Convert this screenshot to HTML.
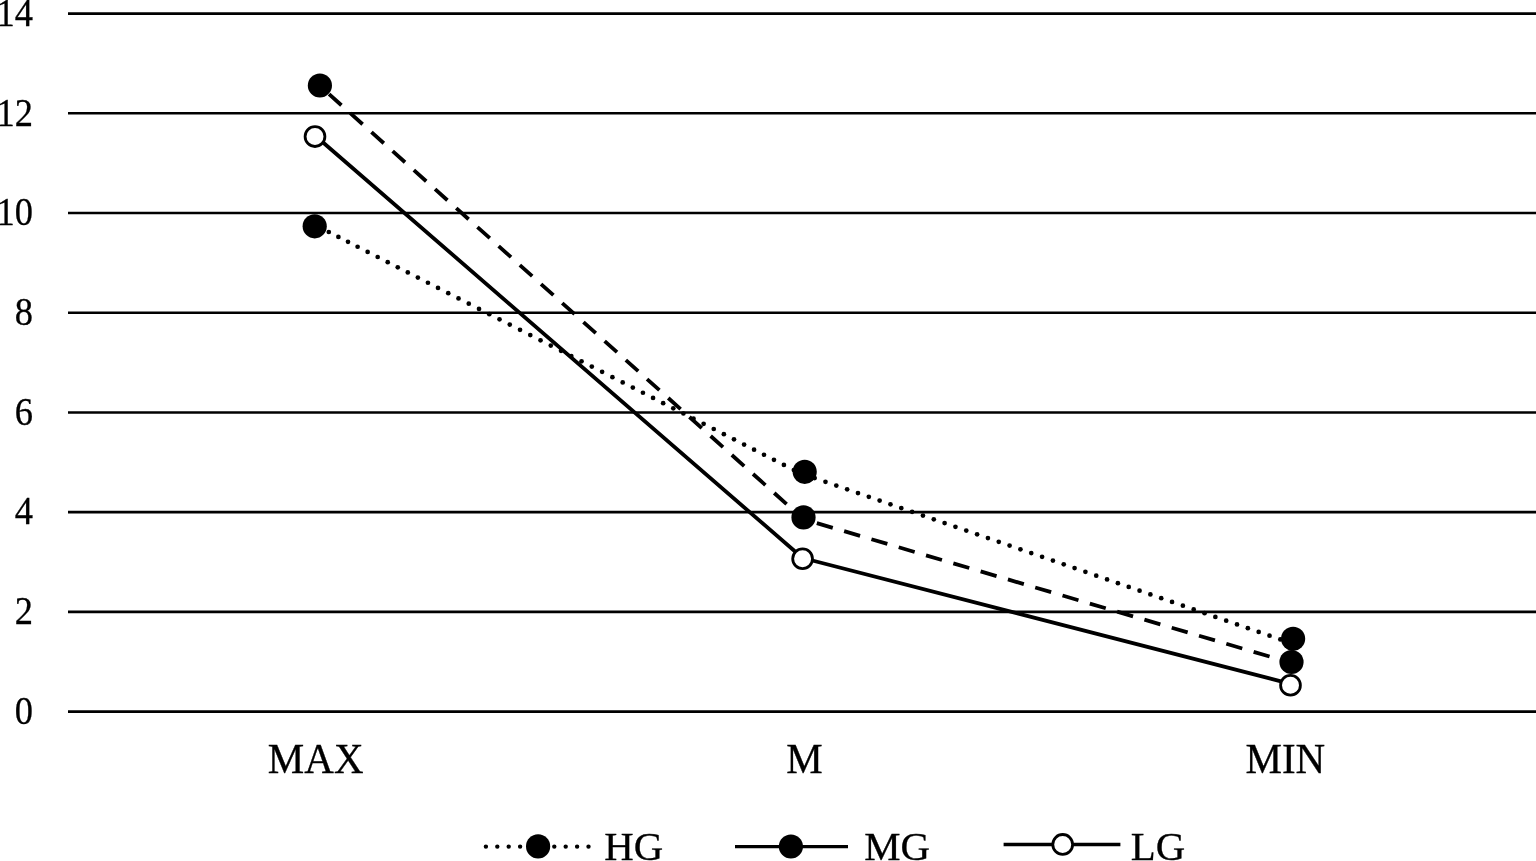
<!DOCTYPE html><html><head><meta charset="utf-8"><style>html,body{margin:0;padding:0;background:#fff;width:1536px;height:861px;overflow:hidden}svg{display:block;will-change:transform}text{font-family:"Liberation Serif",serif;fill:#000;stroke:#000;stroke-width:0.3px}</style></head><body>
<svg width="1536" height="861" viewBox="0 0 1536 861">
<rect width="1536" height="861" fill="#fff"/>
<line x1="68" y1="711.60" x2="1536" y2="711.60" stroke="#000" stroke-width="2.60"/>
<text transform="translate(33.00,723.80) scale(0.9,1)" font-size="40.5" text-anchor="end">0</text>
<line x1="68" y1="611.89" x2="1536" y2="611.89" stroke="#000" stroke-width="2.60"/>
<text transform="translate(33.00,624.09) scale(0.9,1)" font-size="40.5" text-anchor="end">2</text>
<line x1="68" y1="512.17" x2="1536" y2="512.17" stroke="#000" stroke-width="2.60"/>
<text transform="translate(33.00,524.37) scale(0.9,1)" font-size="40.5" text-anchor="end">4</text>
<line x1="68" y1="412.46" x2="1536" y2="412.46" stroke="#000" stroke-width="2.60"/>
<text transform="translate(33.00,424.66) scale(0.9,1)" font-size="40.5" text-anchor="end">6</text>
<line x1="68" y1="312.74" x2="1536" y2="312.74" stroke="#000" stroke-width="2.60"/>
<text transform="translate(33.00,324.94) scale(0.9,1)" font-size="40.5" text-anchor="end">8</text>
<line x1="68" y1="213.03" x2="1536" y2="213.03" stroke="#000" stroke-width="2.60"/>
<text transform="translate(33.00,225.23) scale(0.9,1)" font-size="40.5" text-anchor="end">10</text>
<line x1="68" y1="113.31" x2="1536" y2="113.31" stroke="#000" stroke-width="2.60"/>
<text transform="translate(33.00,125.51) scale(0.9,1)" font-size="40.5" text-anchor="end">12</text>
<line x1="68" y1="13.60" x2="1536" y2="13.60" stroke="#000" stroke-width="2.60"/>
<text transform="translate(33.00,25.80) scale(0.9,1)" font-size="40.5" text-anchor="end">14</text>
<circle cx="328.80" cy="232.00" r="2.35"/>
<circle cx="338.40" cy="236.91" r="2.35"/>
<circle cx="348.00" cy="241.83" r="2.35"/>
<circle cx="357.60" cy="246.74" r="2.35"/>
<circle cx="367.64" cy="251.88" r="2.35"/>
<circle cx="377.68" cy="257.02" r="2.35"/>
<circle cx="387.72" cy="262.16" r="2.35"/>
<circle cx="397.76" cy="267.29" r="2.35"/>
<circle cx="407.80" cy="272.43" r="2.35"/>
<circle cx="417.87" cy="277.58" r="2.35"/>
<circle cx="427.93" cy="282.74" r="2.35"/>
<circle cx="438.00" cy="287.89" r="2.35"/>
<circle cx="448.25" cy="293.14" r="2.35"/>
<circle cx="458.51" cy="298.38" r="2.35"/>
<circle cx="468.76" cy="303.63" r="2.35"/>
<circle cx="479.01" cy="308.88" r="2.35"/>
<circle cx="489.27" cy="314.13" r="2.35"/>
<circle cx="499.52" cy="319.37" r="2.35"/>
<circle cx="509.77" cy="324.62" r="2.35"/>
<circle cx="520.03" cy="329.87" r="2.35"/>
<circle cx="530.28" cy="335.12" r="2.35"/>
<circle cx="540.53" cy="340.37" r="2.35"/>
<circle cx="550.79" cy="345.61" r="2.35"/>
<circle cx="561.04" cy="350.86" r="2.35"/>
<circle cx="571.29" cy="356.11" r="2.35"/>
<circle cx="581.55" cy="361.36" r="2.35"/>
<circle cx="591.80" cy="366.60" r="2.35"/>
<circle cx="602.10" cy="371.87" r="2.35"/>
<circle cx="612.40" cy="377.15" r="2.35"/>
<circle cx="622.70" cy="382.42" r="2.35"/>
<circle cx="632.82" cy="387.60" r="2.35"/>
<circle cx="642.93" cy="392.77" r="2.35"/>
<circle cx="653.05" cy="397.95" r="2.35"/>
<circle cx="663.17" cy="403.13" r="2.35"/>
<circle cx="673.28" cy="408.31" r="2.35"/>
<circle cx="683.40" cy="413.48" r="2.35"/>
<circle cx="693.52" cy="418.66" r="2.35"/>
<circle cx="703.63" cy="423.84" r="2.35"/>
<circle cx="713.75" cy="429.02" r="2.35"/>
<circle cx="723.87" cy="434.20" r="2.35"/>
<circle cx="733.98" cy="439.37" r="2.35"/>
<circle cx="744.10" cy="444.55" r="2.35"/>
<circle cx="754.05" cy="449.64" r="2.35"/>
<circle cx="764.00" cy="454.74" r="2.35"/>
<circle cx="773.95" cy="459.83" r="2.35"/>
<circle cx="783.90" cy="464.92" r="2.35"/>
<circle cx="793.85" cy="470.01" r="2.35"/>
<circle cx="814.65" cy="478.03" r="2.35"/>
<circle cx="825.48" cy="481.79" r="2.35"/>
<circle cx="836.31" cy="485.54" r="2.35"/>
<circle cx="847.14" cy="489.29" r="2.35"/>
<circle cx="857.97" cy="493.05" r="2.35"/>
<circle cx="868.80" cy="496.80" r="2.35"/>
<circle cx="879.63" cy="500.55" r="2.35"/>
<circle cx="890.46" cy="504.31" r="2.35"/>
<circle cx="901.29" cy="508.06" r="2.35"/>
<circle cx="912.12" cy="511.81" r="2.35"/>
<circle cx="922.95" cy="515.57" r="2.35"/>
<circle cx="933.78" cy="519.32" r="2.35"/>
<circle cx="944.61" cy="523.08" r="2.35"/>
<circle cx="955.44" cy="526.83" r="2.35"/>
<circle cx="966.27" cy="530.58" r="2.35"/>
<circle cx="977.10" cy="534.34" r="2.35"/>
<circle cx="987.93" cy="538.09" r="2.35"/>
<circle cx="998.76" cy="541.84" r="2.35"/>
<circle cx="1009.59" cy="545.60" r="2.35"/>
<circle cx="1020.42" cy="549.35" r="2.35"/>
<circle cx="1031.25" cy="553.11" r="2.35"/>
<circle cx="1042.08" cy="556.86" r="2.35"/>
<circle cx="1052.91" cy="560.61" r="2.35"/>
<circle cx="1063.74" cy="564.37" r="2.35"/>
<circle cx="1074.57" cy="568.12" r="2.35"/>
<circle cx="1085.40" cy="571.87" r="2.35"/>
<circle cx="1096.23" cy="575.63" r="2.35"/>
<circle cx="1107.06" cy="579.38" r="2.35"/>
<circle cx="1117.89" cy="583.13" r="2.35"/>
<circle cx="1128.72" cy="586.89" r="2.35"/>
<circle cx="1139.55" cy="590.64" r="2.35"/>
<circle cx="1150.38" cy="594.40" r="2.35"/>
<circle cx="1161.21" cy="598.15" r="2.35"/>
<circle cx="1172.04" cy="601.90" r="2.35"/>
<circle cx="1182.87" cy="605.66" r="2.35"/>
<circle cx="1193.70" cy="609.41" r="2.35"/>
<circle cx="1204.53" cy="613.16" r="2.35"/>
<circle cx="1215.36" cy="616.92" r="2.35"/>
<circle cx="1226.19" cy="620.67" r="2.35"/>
<circle cx="1237.02" cy="624.43" r="2.35"/>
<circle cx="1247.85" cy="628.18" r="2.35"/>
<circle cx="1258.68" cy="631.93" r="2.35"/>
<circle cx="1269.51" cy="635.69" r="2.35"/>
<circle cx="1280.34" cy="639.44" r="2.35"/>
<line x1="319.90" y1="86.00" x2="803.50" y2="519.20" fill="none" stroke="#000" stroke-width="3.8" stroke-dasharray="16.60 11.86" stroke-dashoffset="16.160"/>
<line x1="803.50" y1="519.20" x2="1291.50" y2="663.00" fill="none" stroke="#000" stroke-width="3.8" stroke-dasharray="16.60 11.86" stroke-dashoffset="14.560"/>
<polyline points="315.00,135.45 802.60,558.00 1290.50,683.80" fill="none" stroke="#000" stroke-width="3.8" stroke-linejoin="round"/>
<circle cx="314.7" cy="226.3" r="12.1" fill="#000"/>
<circle cx="804.7" cy="471.8" r="12.1" fill="#000"/>
<circle cx="1293.1" cy="638.8" r="12.1" fill="#000"/>
<circle cx="319.9" cy="85.5" r="12.1" fill="#000"/>
<circle cx="803.5" cy="517.4" r="12.1" fill="#000"/>
<circle cx="1291.5" cy="662.0" r="12.1" fill="#000"/>
<circle cx="315.0" cy="136.6" r="9.9" fill="#fff" stroke="#000" stroke-width="2.8"/>
<circle cx="802.6" cy="558.8" r="9.9" fill="#fff" stroke="#000" stroke-width="2.8"/>
<circle cx="1290.5" cy="685.2" r="9.9" fill="#fff" stroke="#000" stroke-width="2.8"/>
<text transform="translate(315.70,772.9) scale(1.0,1.035)" font-size="41" text-anchor="middle">MAX</text>
<text transform="translate(804.60,772.9) scale(1.0,1.035)" font-size="41" text-anchor="middle">M</text>
<text transform="translate(1285.30,772.9) scale(1.0,1.035)" font-size="41" text-anchor="middle">MIN</text>
<line x1="485.9" y1="846.6" x2="590" y2="846.6" stroke="#000" stroke-width="4.4" stroke-dasharray="0 11.4" stroke-linecap="round"/>
<circle cx="538.1" cy="846.4" r="12.1" fill="#000"/>
<text transform="translate(604.3,859.7)" font-size="40.8">HG</text>
<line x1="735" y1="846.6" x2="848" y2="846.6" stroke="#000" stroke-width="3.3"/>
<circle cx="790.9" cy="846.5" r="12.1" fill="#000"/>
<text transform="translate(864.2,859.7)" font-size="40.8">MG</text>
<line x1="1003.6" y1="844.5" x2="1120.4" y2="844.5" stroke="#000" stroke-width="3.3"/>
<circle cx="1062.7" cy="844.4" r="9.9" fill="#fff" stroke="#000" stroke-width="2.8"/>
<text transform="translate(1130.8,859.7)" font-size="40.8">LG</text>
</svg></body></html>
